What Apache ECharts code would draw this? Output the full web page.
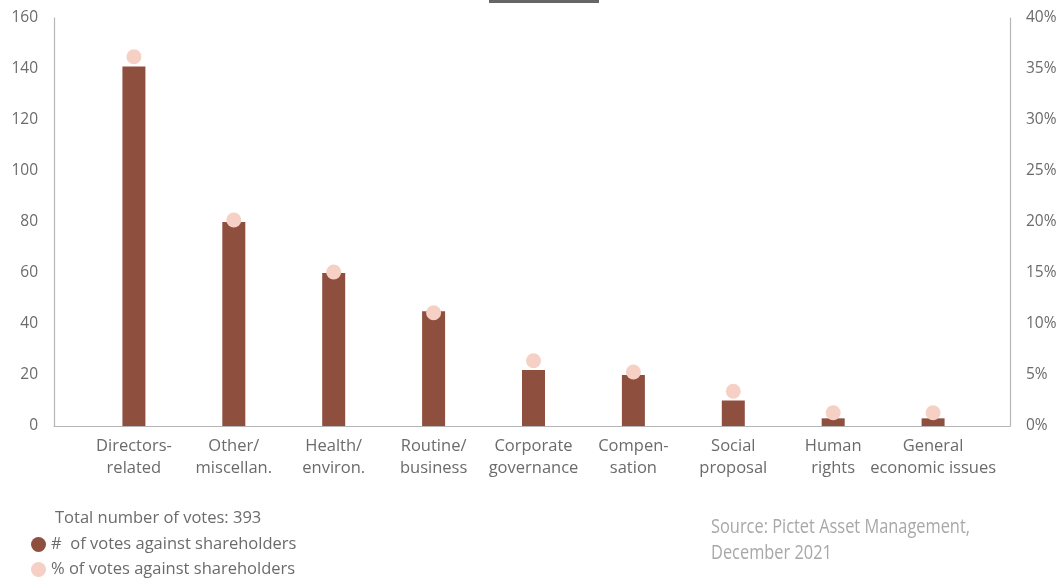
<!DOCTYPE html>
<html>
<head>
<meta charset="utf-8">
<script src="https://cdn.jsdelivr.net/npm/echarts@6/dist/echarts.min.js"></script>
<style>
  html, body { margin: 0; padding: 0; background: #fff; }
  #chart { width: 1063px; height: 578px; }
</style>
</head>
<body>
<div id="chart"></div>
<script>
// Proxy votes against shareholder proposals, by topic
const categories = [
  'Directors-\nrelated', 'Other/\nmiscellan.', 'Health/\nenviron.', 'Routine/\nbusiness',
  'Corporate\ngovernance', 'Compen-\nsation', 'Social\nproposal', 'Human\nrights', 'General\neconomic issues'
];
const votesAgainst = [141, 80, 60, 45, 22, 20, 10, 3, 3];
const pctAgainst = [36.2, 20.2, 15.1, 11.1, 6.4, 5.3, 3.4, 1.3, 1.3];
const totalVotes = 393;
const legendNames = ['#  of votes against shareholders', '% of votes against shareholders'];
const sourceText = 'Source: Pictet Asset Management,\nDecember 2021';

const barColor = '#8E4F3E';
const dotColor = '#F6D0C4';
const textColor = '#6b6b6b';
const axisColor = '#b5b5b5';
const font = '"Open Sans", Lato, sans-serif';
const labelSize = 16.5;
const tickSize = 15.5;

const barData = votesAgainst.map((v, i) => [i, v]);
const dotData = pctAgainst.map((v, i) => [i, v]);
const catIndex = categories.map((c, i) => i);

// Condensed look for the source note: squeeze a regular face horizontally
const srcFont = '20px "Open Sans", sans-serif';
const measureCtx = document.createElement('canvas').getContext('2d');
measureCtx.font = srcFont;
const srcScale = 259 / measureCtx.measureText(sourceText.split('\n')[0]).width;

const legendBase = {
  orient: 'vertical',
  left: 26,
  itemWidth: 15,
  itemHeight: 15,
  itemGap: 0,
  icon: 'circle',
  textStyle: { color: textColor, fontSize: labelSize, fontFamily: font }
};

const chart = echarts.init(document.getElementById('chart'), null, { renderer: 'canvas' });
chart.setOption({
  animation: false,
  textStyle: { fontFamily: font },
  grid: { left: 54, right: 53, top: 18, bottom: 152, containLabel: false },
  xAxis: {
    type: 'value',
    min: -0.8,
    max: 8.77,
    splitLine: { show: false },
    axisLine: { show: true, onZero: false, lineStyle: { color: axisColor, width: 1.2 } },
    axisTick: { show: false },
    axisLabel: {
      customValues: catIndex,
      formatter: v => categories[Math.round(v)] || '',
      color: textColor,
      fontSize: labelSize,
      lineHeight: 22,
      margin: 9,
      fontFamily: font
    }
  },
  yAxis: [
    {
      type: 'value', min: 0, max: 160, interval: 20,
      splitLine: { show: false },
      axisLine: { show: true, onZero: false, lineStyle: { color: axisColor, width: 1.2 } },
      axisTick: { show: false },
      axisLabel: { color: textColor, fontSize: tickSize, margin: 16, fontFamily: font }
    },
    {
      type: 'value', min: 0, max: 40, interval: 5, position: 'right',
      splitLine: { show: false },
      axisLine: { show: true, onZero: false, lineStyle: { color: axisColor, width: 1.2 } },
      axisTick: { show: false },
      axisLabel: { color: textColor, fontSize: tickSize, margin: 16, formatter: '{value}%', fontFamily: font }
    }
  ],
  legend: [
    Object.assign({}, legendBase, { top: 531, data: [legendNames[0]] }),
    Object.assign({}, legendBase, { top: 556, data: [legendNames[1]] })
  ],
  series: [
    {
      name: legendNames[0],
      type: 'bar',
      data: barData,
      barWidth: 23,
      itemStyle: { color: barColor },
      z: 2
    },
    {
      name: legendNames[1],
      type: 'scatter',
      yAxisIndex: 1,
      data: dotData,
      symbol: 'circle',
      symbolSize: 15,
      itemStyle: { color: dotColor, opacity: 1 },
      z: 3
    }
  ],
  graphic: [
    { type: 'rect', left: 489, top: 0, shape: { width: 110, height: 3 }, style: { fill: '#666' } },
    {
      type: 'text', left: 55, top: 510,
      style: { text: 'Total number of votes: ' + totalVotes, fill: textColor, font: labelSize + 'px ' + font }
    },
    {
      type: 'text', x: 711, y: 514, scaleX: srcScale,
      style: {
        text: sourceText,
        fill: '#a8a8a8',
        font: srcFont,
        lineHeight: 26
      }
    }
  ]
});
</script>
</body>
</html>
